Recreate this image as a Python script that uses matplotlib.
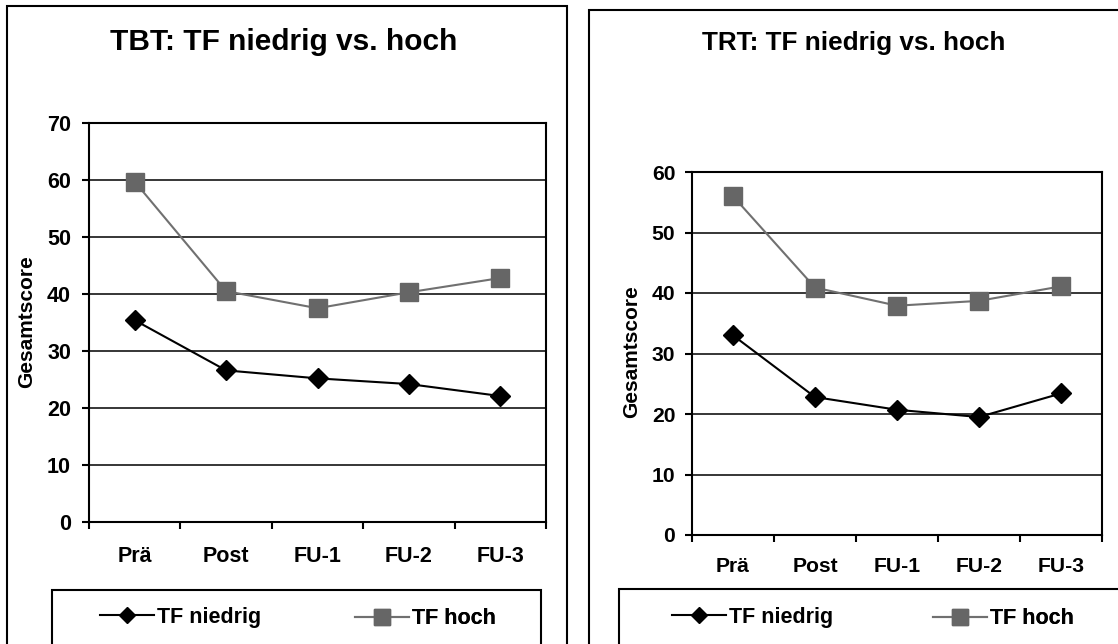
import matplotlib
matplotlib.use("Agg")
from matplotlib import pyplot as plt
from matplotlib.patches import Rectangle
import numpy as np

plt.rcParams['font.family'] = ['Liberation Sans', 'DejaVu Sans']
plt.rcParams['font.weight'] = 'bold'

# Data
categories = ["Prä", "Post", "FU-1", "FU-2", "FU-3"]
tbt_niedrig = [35.4, 26.6, 25.2, 24.2, 22.1]
tbt_hoch = [59.7, 40.5, 37.5, 40.3, 42.8]
trt_niedrig = [33.0, 22.8, 20.7, 19.5, 23.4]
trt_hoch = [56.0, 40.9, 37.9, 38.7, 41.1]

W, H = 1118, 644
fig = plt.figure(figsize=(W / 100, H / 100), dpi=100)
fig.patch.set_facecolor("white")

HOCH_CLR = "#666666"


def px(x, y):
    # pixel (from top-left) -> figure fraction
    return x / W, 1 - y / H


def panel(rect_px, title, title_xy, title_size, niedrig, hoch, ymax, ylabel_xy,
          tick_size, xpad, ypad, legend_x):
    x0, y_top, x1, y_bot = rect_px
    ax = fig.add_axes([x0 / W, 1 - y_bot / H, (x1 - x0) / W, (y_bot - y_top) / H])
    x = np.arange(len(categories))
    l1, = ax.plot(x, niedrig, color="black", lw=1.5, marker="D", ms=10,
                  mfc="black", mec="black", zorder=4, clip_on=False)
    l2, = ax.plot(x, hoch, color="#707070", lw=1.5, marker="s", ms=13,
                  mfc=HOCH_CLR, mec=HOCH_CLR, zorder=3, clip_on=False)
    ax.set_xlim(-0.5, len(categories) - 0.5)
    ax.set_ylim(0, ymax)
    ax.set_yticks(np.arange(0, ymax + 1, 10))
    ax.yaxis.grid(True, color="black", lw=1.1)
    ax.set_axisbelow(True)
    for s in ax.spines.values():
        s.set_linewidth(1.5)
        s.set_color("black")
    ax.set_xticks(x)
    ax.set_xticklabels(categories, fontsize=tick_size, fontweight="bold")
    ax.set_xticks(np.arange(-0.5, len(categories)), minor=True)
    ax.tick_params(axis="x", which="major", length=0, pad=xpad)
    ax.tick_params(axis="x", which="minor", length=5, width=1.5, direction="out")
    ax.tick_params(axis="y", length=5, width=1.5, direction="out", pad=ypad,
                   labelsize=tick_size)
    for t in ax.get_yticklabels():
        t.set_fontweight("bold")
    ax.set_ylabel("Gesamtscore", fontsize=15, fontweight="bold")
    ax.yaxis.set_label_coords(*px(*ylabel_xy), transform=fig.transFigure)

    fig.text(*px(*title_xy), title, ha="center", va="center",
             fontsize=title_size, fontweight="bold")

    # one legend per entry; small y nudge keeps both labels on one baseline
    for line, label, lx, ly in zip([l1, l2], ["TF niedrig", "TF hoch"],
                                   legend_x, [617, 619]):
        leg = ax.legend([line], [label], loc="center left",
                        bbox_to_anchor=px(lx, ly), bbox_transform=fig.transFigure,
                        frameon=False, prop={"weight": "bold", "size": 15.5},
                        handlelength=2.5, handletextpad=0.14,
                        borderpad=0, borderaxespad=0)
        for h in leg.legend_handles:
            h.set_markersize(h.get_markersize() * 0.85)
        ax.add_artist(leg)
    return ax


panel((89, 123, 546, 522), "TBT: TF niedrig vs. hoch", (284, 42), 21.5,
      tbt_niedrig, tbt_hoch, 70, (36, 322), 15.5, 17, 8, (100, 355))
panel((692, 172, 1102, 535), "TRT: TF niedrig vs. hoch", (854, 43), 18.8,
      trt_niedrig, trt_hoch, 60, (641, 352), 15.2, 16, 7, (672, 933))

# panel frames and legend boxes (cut at bottom edge like the reference)
boxes = [(7, 6, 567), (589, 10, 1130), (52, 590, 541), (619, 589, 1130)]
for bx0, by0, bx1 in boxes:
    fx, fy = px(bx0, by0)
    fig.add_artist(Rectangle((fx, -0.05), (bx1 - bx0) / W, fy + 0.05,
                             transform=fig.transFigure, fill=False,
                             edgecolor="black", lw=1.5, clip_on=False))

fig.savefig("out.png", dpi=100)
